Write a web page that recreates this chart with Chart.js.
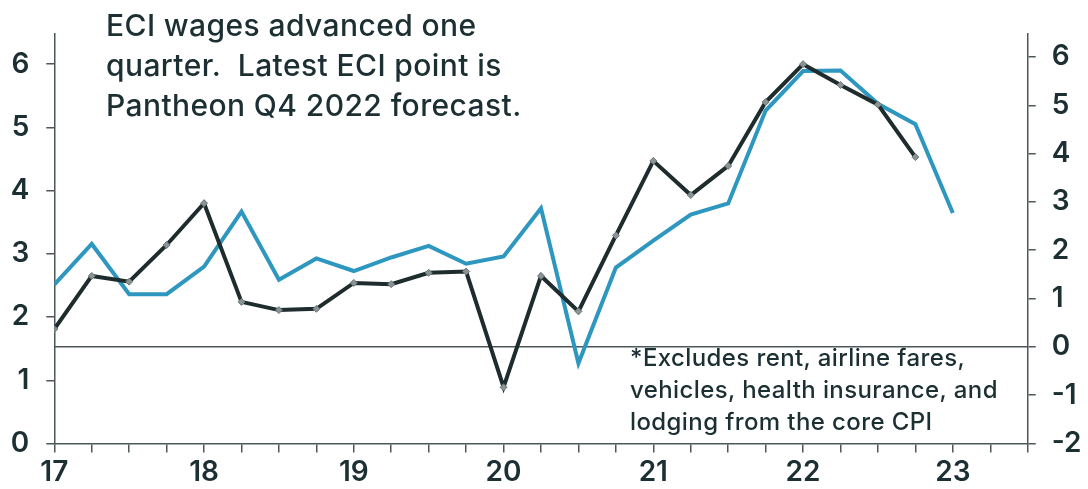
<!DOCTYPE html>
<html>
<head>
<meta charset="utf-8">
<script src="https://cdn.jsdelivr.net/npm/chart.js@4"></script>
<style>
  html, body { margin: 0; padding: 0; background: #ffffff; }
  #wrap { position: relative; width: 1088px; height: 489px; overflow: hidden; }
  canvas { position: absolute; left: 0; top: 0; }
  .note { position: absolute; font-family: 'Inter', 'Roboto', sans-serif; color: #1c2f32; white-space: pre; }
  #title { left: 106px; top: 5px; font-size: 30px; line-height: 40px; font-weight: 500; letter-spacing: 0.4px; }
  #foot { left: 630px; top: 342px; font-size: 24px; line-height: 32px; font-weight: 500; letter-spacing: 0.4px; }
</style>
</head>
<body>
<div id="wrap">
  <canvas id="c" width="1088" height="489"></canvas>
  <div id="title" class="note">ECI wages advanced one
quarter.  Latest ECI point is
Pantheon Q4 2022 forecast.</div>
  <div id="foot" class="note">*Excludes rent, airline fares,
vehicles, health insurance, and
lodging from the core CPI</div>
</div>
<script>
// Quarters from 2017Q1
const quarters = ['2017Q1','2017Q2','2017Q3','2017Q4','2018Q1','2018Q2','2018Q3','2018Q4',
  '2019Q1','2019Q2','2019Q3','2019Q4','2020Q1','2020Q2','2020Q3','2020Q4',
  '2021Q1','2021Q2','2021Q3','2021Q4','2022Q1','2022Q2','2022Q3','2022Q4','2023Q1'];
// ECI wages, advanced one quarter (left axis)
const eciWages = [1.81, 2.65, 2.56, 3.14, 3.80, 2.24, 2.11, 2.13, 2.54, 2.52, 2.70, 2.72,
  0.89, 2.65, 2.09, 3.29, 4.47, 3.93, 4.39, 5.40, 6.00, 5.67, 5.36, 4.53];
// Core CPI excluding rent, airline fares, vehicles, health insurance, lodging (right axis)
const coreCpiEx = [1.29, 2.13, 1.09, 1.09, 1.66, 2.80, 1.39, 1.83, 1.57, 1.85, 2.09, 1.72,
  1.87, 2.87, -0.34, 1.64, 2.20, 2.74, 2.97, 4.89, 5.71, 5.72, 5.03, 4.61, 2.77];
const yearLabels = ['17','18','19','20','21','22','23'];

const ink = '#1c2f32';
const axisCol = '#4d5759';
const tickFont = { family: 'Inter', size: 28, weight: '600' };

const intOnly = (scale) => { scale.ticks = scale.ticks.filter(t => Number.isInteger(t.value)); };

new Chart(document.getElementById('c'), {
  type: 'line',
  data: {
    datasets: [
      {
        label: 'Core CPI ex rent, airfares, vehicles, health ins., lodging',
        data: coreCpiEx.map((v, i) => ({ x: i, y: v })),
        yAxisID: 'yR',
        borderColor: '#2e97c0',
        borderWidth: 4,
        pointRadius: 0,
        tension: 0,
        order: 2
      },
      {
        label: 'ECI wages',
        data: eciWages.map((v, i) => ({ x: i, y: v })),
        yAxisID: 'yL',
        borderColor: '#1e2c2e',
        borderWidth: 4,
        pointStyle: 'rectRot',
        pointRadius: 3.5,
        pointBackgroundColor: '#8a9494',
        pointBorderColor: '#6d7777',
        pointBorderWidth: 1,
        tension: 0,
        order: 1
      }
    ]
  },
  options: {
    responsive: false,
    animation: false,
    layout: { padding: { top: 13, left: 0, right: 0, bottom: 0 } },
    plugins: { legend: { display: false }, tooltip: { enabled: false } },
    scales: {
      x: {
        type: 'linear',
        min: 0,
        max: 26,
        afterFit: (s) => { s.height = 45.5; },
        afterBuildTicks: intOnly,
        border: { display: true, color: axisCol, width: 1.5 },
        grid: { drawOnChartArea: false, drawTicks: true, tickLength: 9, color: axisCol, lineWidth: 1.5 },
        ticks: {
          stepSize: 1, autoSkip: false, maxRotation: 0, maxTicksLimit: 40, includeBounds: false,
          padding: 3, color: ink, font: tickFont,
          callback: (v) => (v % 4 === 0 && v / 4 < yearLabels.length) ? yearLabels[v / 4] : ''
        }
      },
      yL: {
        position: 'left',
        min: 0,
        max: 6.48,
        afterFit: (s) => { s.width = 54.3; },
        afterBuildTicks: intOnly,
        border: { display: true, color: axisCol, width: 1.5 },
        grid: { drawOnChartArea: false, drawTicks: true, tickLength: 8, color: axisCol, lineWidth: 1.5 },
        ticks: { stepSize: 1, includeBounds: false, padding: 17, color: ink, font: tickFont,
          callback: (v) => String(v) }
      },
      yR: {
        position: 'right',
        min: -2,
        max: 6.48,
        afterFit: (s) => { s.width = 60.3; },
        afterBuildTicks: intOnly,
        border: { display: true, color: axisCol, width: 1.5 },
        grid: {
          drawOnChartArea: true, drawTicks: true, tickLength: 8,
          color: (ctx) => (ctx.tick && ctx.tick.value === 0) ? axisCol : 'rgba(0,0,0,0)',
          tickColor: axisCol,
          lineWidth: 1.5
        },
        ticks: { stepSize: 1, includeBounds: false, padding: 16, color: ink, font: tickFont,
          callback: (v) => String(v) }
      }
    }
  }
});
</script>
</body>
</html>
